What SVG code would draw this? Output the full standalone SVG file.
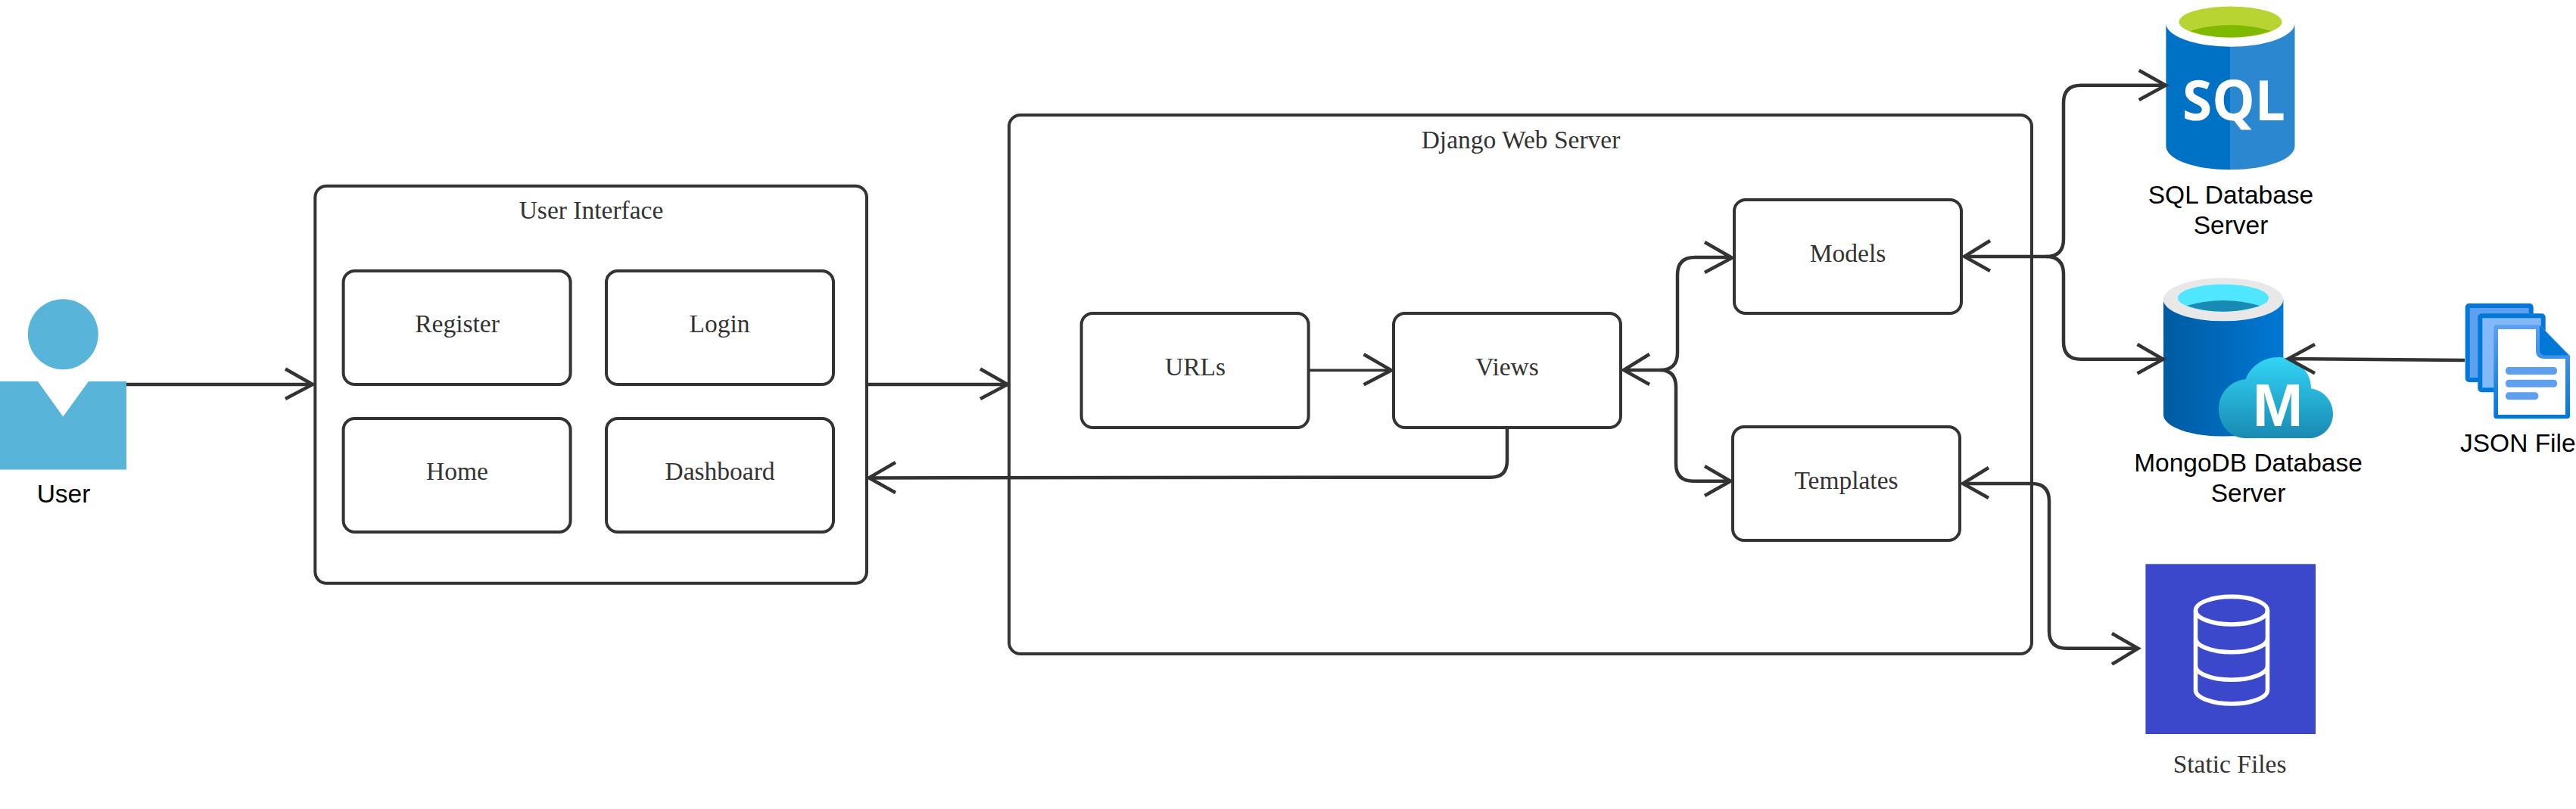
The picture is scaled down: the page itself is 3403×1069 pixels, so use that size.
<svg xmlns="http://www.w3.org/2000/svg" width="3403" height="1069" viewBox="0 0 3403 1069">
<style>
.box{fill:#fff;stroke:#333;stroke-width:4}
.serif{font-family:"Liberation Serif",serif;font-size:33.5px;fill:#333;text-anchor:middle}
.sans{font-family:"Liberation Sans",sans-serif;font-size:33.5px;fill:#000;text-anchor:middle}
.conn{fill:none;stroke:#333;stroke-width:4.5}
</style>
<defs>
<linearGradient id="mongoBody" x1="0" x2="1" y1="0" y2="0"><stop offset="0" stop-color="#005BA1"/><stop offset="1" stop-color="#0078D4"/></linearGradient>
<linearGradient id="mongoCloud" x1="0" x2="0" y1="0" y2="1"><stop offset="0" stop-color="#32D4F5"/><stop offset="1" stop-color="#198AB3"/></linearGradient>
<linearGradient id="docBorder" x1="0" x2="0" y1="0" y2="1"><stop offset="0" stop-color="#5EA0EF"/><stop offset="1" stop-color="#0078D7"/></linearGradient>
</defs>
<rect width="3403" height="1069" fill="#fff"/>
<g id="user">
<circle cx="83.3" cy="441.7" r="46.5" fill="#59B4D9"/>
<path d="M0 504H50L83.3 550.5L117 504H167V620.5H0Z" fill="#59B4D9"/>
<text class="sans" x="84" y="664">User</text>
</g>
<g id="user-interface">
<rect class="box" x="416.3" y="245.7" width="728.7" height="525" rx="15"/>
<text class="serif" x="781" y="289">User Interface</text>
</g>
<g id="register"><rect class="box" x="453.6" y="358" width="300" height="150" rx="15"/><text class="serif" x="604" y="439">Register</text></g>
<g id="login"><rect class="box" x="801" y="358" width="300" height="150" rx="15"/><text class="serif" x="950.5" y="439">Login</text></g>
<g id="home"><rect class="box" x="453.6" y="553" width="300" height="150" rx="15"/><text class="serif" x="604" y="634">Home</text></g>
<g id="dashboard"><rect class="box" x="801" y="553" width="300" height="150" rx="15"/><text class="serif" x="951" y="634">Dashboard</text></g>
<g id="django">
<rect class="box" x="1333" y="152" width="1351" height="712" rx="15"/>
<text class="serif" x="2009" y="196">Django Web Server</text>
</g>
<g id="urls"><rect class="box" x="1428.6" y="414" width="300" height="151" rx="15"/><text class="serif" x="1579" y="496">URLs</text></g>
<g id="views"><rect class="box" x="1841" y="414" width="300" height="151" rx="15"/><text class="serif" x="1991" y="496">Views</text></g>
<g id="models"><rect class="box" x="2291" y="264" width="300" height="150" rx="15"/><text class="serif" x="2441" y="346">Models</text></g>
<g id="templates"><rect class="box" x="2289" y="564" width="300" height="150" rx="15"/><text class="serif" x="2439" y="646">Templates</text></g>
<g id="sql-server">
<path d="M2861.4 30.7V193.3A85 31 0 0 0 2946 224.3V61.7A85 31 0 0 1 2861.4 30.7Z" fill="#0072C6"/>
<path d="M3031.5 30.7V193.3A85 31 0 0 1 2946 224.3V61.7A85 31 0 0 0 3031.5 30.7Z" fill="#2A87D0"/>
<ellipse cx="2946.5" cy="29" rx="68" ry="20.5" fill="#B8D432"/>
<path d="M2893 40.7Q2946.5 25.5 3000 40.7Q2975 49.5 2946.5 49.5Q2915 49.5 2893 40.7Z" fill="#7FBA00"/>
<text x="2951" y="159.3" font-family="Open Sans,sans-serif" font-weight="700" font-size="74" fill="#fff" text-anchor="middle" textLength="136" lengthAdjust="spacingAndGlyphs">SQL</text>
<text class="sans" x="2947" y="269">SQL Database</text>
<text class="sans" x="2947" y="308.5">Server</text>
</g>
<g id="mongodb-server">
<path d="M2858 396V548A79 28.5 0 0 0 3016.4 548V396Z" fill="url(#mongoBody)"/>
<ellipse cx="2937" cy="395.8" rx="79.2" ry="28.5" fill="#E8E8E8"/>
<ellipse cx="2937" cy="393.7" rx="60" ry="18" fill="#50E6FF"/>
<path d="M2889 404Q2937 390 2985.4 404Q2962 411.7 2937 411.7Q2910 411.7 2889 404Z" fill="#198AB3"/>
<path d="M2966.7 579C2946 579 2931 562 2931 540C2931 519 2947 503 2966.7 501C2973 484 2990 472 3009.6 472C3034 472 3053 490 3053 513.3C3070 516 3082 530 3082 546.7C3082 565 3068 579 3050 579Z" fill="url(#mongoCloud)"/>
<text x="3009" y="562.7" font-family="Liberation Sans,sans-serif" font-weight="700" font-size="80" fill="#fff" text-anchor="middle">M</text>
<text class="sans" x="2970" y="622.7">MongoDB Database</text>
<text class="sans" x="2970" y="662.7">Server</text>
</g>
<g id="json-file">
<rect x="3259.7" y="404" width="84" height="98" rx="2" fill="#5EA0EF" stroke="#0078D7" stroke-width="6"/>
<rect x="3276.3" y="417.3" width="83.4" height="98" rx="2" fill="#83B9F9" stroke="#0078D7" stroke-width="6"/>
<path d="M3294.3 433Q3294.3 429.3 3298 429.3H3355L3395 470V549.5Q3395 553.3 3391 553.3H3298Q3294.3 553.3 3294.3 549.5Z" fill="url(#docBorder)"/>
<path d="M3300 435H3350V463Q3350 474 3361 474H3389V548H3300Z" fill="#fff"/>
<path d="M3355 430L3393 469.5H3362Q3355 469.5 3355 462Z" fill="#0078D7"/>
<g fill="#5EA0EF"><rect x="3310" y="485" width="68" height="10" rx="4.5"/><rect x="3310" y="501.7" width="68" height="10" rx="4.5"/><rect x="3310" y="518.3" width="43.3" height="10" rx="4.5"/></g>
<text class="sans" x="3250" y="596.7" style="text-anchor:start">JSON File</text>
</g>
<g id="static-files">
<rect x="2834.4" y="745.3" width="224.6" height="224.7" fill="#3C48CC"/>
<g fill="none" stroke="#fff" stroke-width="5.6">
<ellipse cx="2948" cy="806.7" rx="47.5" ry="18.3"/>
<path d="M2900.5 806.7V911.7A47.5 18.3 0 0 0 2995.5 911.7V806.7M2900.5 843.4A47.5 18.3 0 0 0 2995.5 843.4M2900.5 880A47.5 18.3 0 0 0 2995.5 880"/>
</g>
<text class="serif" x="2945.6" y="1020.7">Static Files</text>
</g>
<g id="connectors" class="conn">
<path d="M167 508H411M377 487.5L413 508L377 527"/>
<path d="M1145 508H1328M1295 487.5L1331 508L1295 527"/>
<path d="M1991 565V608.7Q1991 630.7 1969 630.7L1150 631.4M1183 611L1148 631.4L1183 651"/>
<path d="M1730 489.3H1836" stroke-width="3.5"/>
<path d="M1801.6 468.3L1838 489.3L1801.6 508.3"/>
<path d="M2146 489H2193Q2216 489 2216 466V363Q2216 340 2239 340H2286M2252 320L2288 340.7L2252 360"/>
<path d="M2193 489Q2214 489 2214 512V612.7Q2214 635.7 2237 635.7H2284M2252 616L2286 635.7L2252 655"/>
<path d="M2596 339H2703Q2726 339 2726 316V135.7Q2726 112.7 2749 112.7H2859M2825.7 93L2861 112.7L2825.7 132"/>
<path d="M2703 339Q2726 339 2726 362V451.7Q2726 474.7 2749 474.7H2855M2823.5 455L2857.6 474.7L2823.5 493.5"/>
<path d="M2629 318L2595 339L2629 358"/>
<path d="M2594 639H2684Q2707 639 2707 662V833.7Q2707 856.7 2730 856.7H2822M2790 837L2824.5 856.7L2790 877.7"/>
<path d="M2627 618L2593 639L2627 658"/>
<path d="M2179 468L2145 489L2179 508"/>
<path d="M3256 476L3025 474M3058 455L3023 474L3058 493.3"/>
</g>
</svg>
